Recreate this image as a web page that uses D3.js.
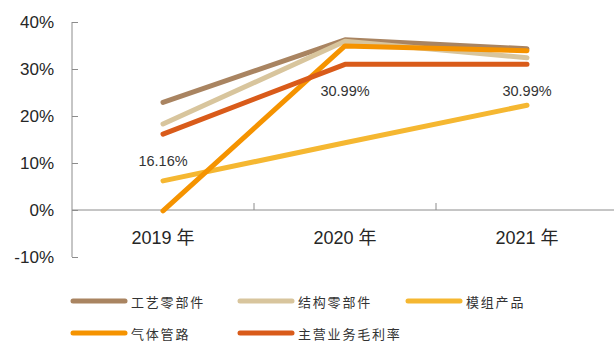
<!DOCTYPE html>
<html>
<head>
<meta charset="utf-8">
<script src="https://cdn.jsdelivr.net/npm/d3@7/dist/d3.min.js"></script>
<style>
  html, body { margin: 0; padding: 0; background: #fff; }
  svg { display: block; }
</style>
</head>
<body>
<svg id="chart" width="614" height="343"></svg>
<script>
// Gross margin by product line, 2019–2021 (%)
const years = ["2019 年", "2020 年", "2021 年"];
const seriesNames = ["工艺零部件", "结构零部件", "模组产品", "气体管路", "主营业务毛利率"];
const craftParts = [22.9, 36.2, 34.3];
const structParts = [18.3, 35.9, 32.4];
const moduleProducts = [6.2, 14.3, 22.3];
const gasLines = [-0.2, 34.9, 33.9];
const mainMargin = [16.16, 30.99, 30.99];
const seriesColors = ["#A98461", "#D8C59D", "#F5B731", "#F59300", "#D95B1A"];
const yTicks = [-10, 0, 10, 20, 30, 40];
const marginLabels = ["16.16%", "30.99%", "30.99%"];

const seriesValues = [craftParts, structParts, moduleProducts, gasLines, mainMargin];
const series = seriesNames.map((name, i) => ({ name, values: seriesValues[i], color: seriesColors[i] }));

const svg = d3.select("#chart");
const axisColor = "#8c8c8c";
const textColor = "#262626";

const x = d3.scaleBand().domain(years).range([72, 618]);
const y = d3.scaleLinear().domain([-10, 40]).range([257, 22]);
const cx = d => x(d) + x.bandwidth() / 2;

// y axis: line with inward ticks
const yAxis = d3.axisRight(y).tickValues(yTicks).tickSize(6).tickFormat("");
const gy = svg.append("g").attr("transform", "translate(72,0)").call(yAxis);
gy.select(".domain").attr("stroke", axisColor).attr("d", `M0,${y(-10)}V${y(40)}`);
gy.selectAll(".tick line").attr("stroke", axisColor);

svg.append("g").selectAll("text").data(yTicks).join("text")
  .attr("x", 54).attr("y", d => y(d))
  .attr("text-anchor", "end").attr("dominant-baseline", "central")
  .attr("font-family", "Liberation Sans, Arial, sans-serif").attr("font-size", 17)
  .attr("fill", textColor)
  .text(d => d + "%");

// x axis along zero, ticks at category boundaries pointing up
const gx = svg.append("g").attr("transform", `translate(0,${y(0)})`);
gx.append("line").attr("x1", 72).attr("x2", 614).attr("stroke", axisColor);
gx.selectAll("line.tk").data(years.slice(1)).join("line").attr("class", "tk")
  .attr("x1", d => x(d)).attr("x2", d => x(d)).attr("y1", 0).attr("y2", -7)
  .attr("stroke", axisColor);

svg.append("g").selectAll("text").data(years).join("text")
  .attr("x", d => cx(d)).attr("y", 244)
  .attr("text-anchor", "middle")
  .attr("font-family", "Liberation Sans, Arial, 'Noto Sans CJK SC', sans-serif").attr("font-size", 18)
  .attr("fill", textColor)
  .text(d => d);

// series lines
const line = d3.line().x((d, i) => cx(years[i])).y(d => y(d));
svg.append("g").selectAll("path").data(series).join("path")
  .attr("d", d => line(d.values))
  .attr("fill", "none").attr("stroke", d => d.color)
  .attr("stroke-width", 5).attr("stroke-linecap", "round").attr("stroke-linejoin", "round");

// value labels under the overall margin line
svg.append("g").selectAll("text").data(mainMargin).join("text")
  .attr("x", (d, i) => cx(years[i])).attr("y", d => y(d) + 27)
  .attr("text-anchor", "middle").attr("dominant-baseline", "central")
  .attr("font-family", "Liberation Sans, Arial, sans-serif").attr("font-size", 14.5)
  .attr("fill", "#333")
  .text((d, i) => marginLabels[i]);

// legend
const legendPos = [[73, 301], [240, 301], [408, 301], [73, 333], [240, 333]];
const lg = svg.append("g").selectAll("g").data(series).join("g")
  .attr("transform", (d, i) => `translate(${legendPos[i][0]},${legendPos[i][1]})`);
lg.append("line").attr("x1", 0).attr("x2", 52).attr("y1", 0).attr("y2", 0)
  .attr("stroke", d => d.color).attr("stroke-width", 5).attr("stroke-linecap", "round");
lg.append("text").attr("x", 58).attr("y", 0).attr("dominant-baseline", "central")
  .attr("font-family", "'Noto Sans CJK SC', sans-serif").attr("font-size", 13)
  .attr("letter-spacing", 1.8).attr("fill", "#333")
  .text(d => d.name);
</script>
</body>
</html>
